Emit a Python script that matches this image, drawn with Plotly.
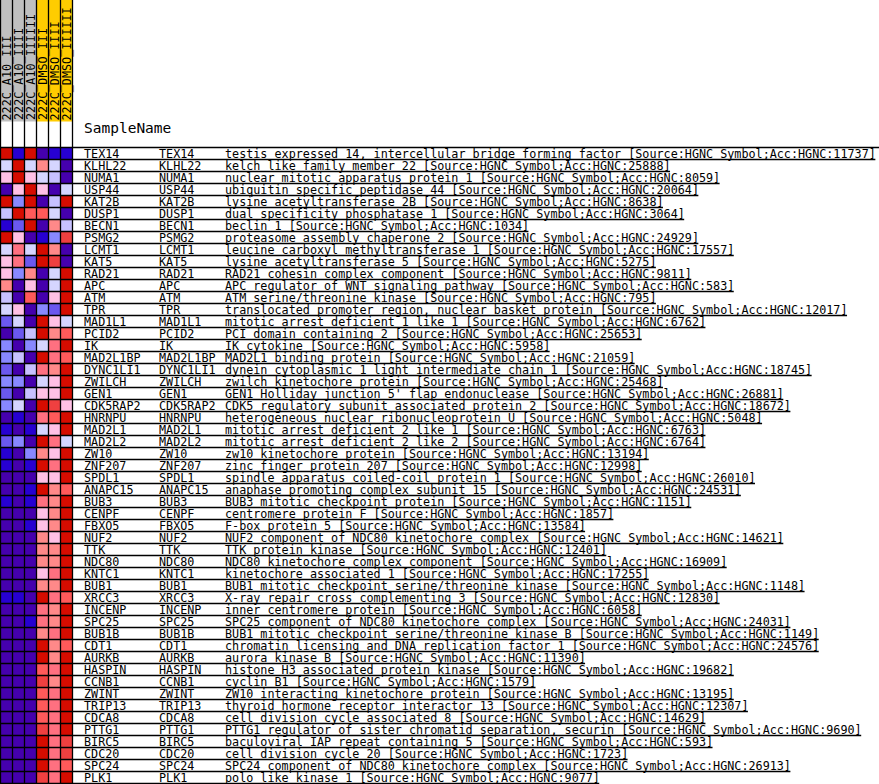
import plotly.graph_objects as go

samples = ["222C_A10_III", "222C_A10_IIII", "222C_A10_IIIIII",
           "222C_DMSO_III", "222C_DMSO_IIII", "222C_DMSO_IIIIII"]
sample_colors = ["#c0c0c0", "#c0c0c0", "#c0c0c0", "#ffcc00", "#ffcc00", "#ffcc00"]

genes = ["TEX14", "KLHL22", "NUMA1", "USP44", "KAT2B", "DUSP1", "BECN1", "PSMG2", "LCMT1", "KAT5",
         "RAD21", "APC", "ATM", "TPR", "MAD1L1", "PCID2", "IK", "MAD2L1BP", "DYNC1LI1", "ZWILCH",
         "GEN1", "CDK5RAP2", "HNRNPU", "MAD2L1", "MAD2L2", "ZW10", "ZNF207", "SPDL1", "ANAPC15", "BUB3",
         "CENPF", "FBXO5", "NUF2", "TTK", "NDC80", "KNTC1", "BUB1", "XRCC3", "INCENP", "SPC25",
         "BUB1B", "CDT1", "AURKB", "HASPIN", "CCNB1", "ZWINT", "TRIP13", "CDCA8", "PTTG1", "BIRC5",
         "CDC20", "SPC24", "PLK1"]

descriptions = [
    "testis expressed 14, intercellular bridge forming factor [Source:HGNC Symbol;Acc:HGNC:11737]",
    "kelch like family member 22 [Source:HGNC Symbol;Acc:HGNC:25888]",
    "nuclear mitotic apparatus protein 1 [Source:HGNC Symbol;Acc:HGNC:8059]",
    "ubiquitin specific peptidase 44 [Source:HGNC Symbol;Acc:HGNC:20064]",
    "lysine acetyltransferase 2B [Source:HGNC Symbol;Acc:HGNC:8638]",
    "dual specificity phosphatase 1 [Source:HGNC Symbol;Acc:HGNC:3064]",
    "beclin 1 [Source:HGNC Symbol;Acc:HGNC:1034]",
    "proteasome assembly chaperone 2 [Source:HGNC Symbol;Acc:HGNC:24929]",
    "leucine carboxyl methyltransferase 1 [Source:HGNC Symbol;Acc:HGNC:17557]",
    "lysine acetyltransferase 5 [Source:HGNC Symbol;Acc:HGNC:5275]",
    "RAD21 cohesin complex component [Source:HGNC Symbol;Acc:HGNC:9811]",
    "APC regulator of WNT signaling pathway [Source:HGNC Symbol;Acc:HGNC:583]",
    "ATM serine/threonine kinase [Source:HGNC Symbol;Acc:HGNC:795]",
    "translocated promoter region, nuclear basket protein [Source:HGNC Symbol;Acc:HGNC:12017]",
    "mitotic arrest deficient 1 like 1 [Source:HGNC Symbol;Acc:HGNC:6762]",
    "PCI domain containing 2 [Source:HGNC Symbol;Acc:HGNC:25653]",
    "IK cytokine [Source:HGNC Symbol;Acc:HGNC:5958]",
    "MAD2L1 binding protein [Source:HGNC Symbol;Acc:HGNC:21059]",
    "dynein cytoplasmic 1 light intermediate chain 1 [Source:HGNC Symbol;Acc:HGNC:18745]",
    "zwilch kinetochore protein [Source:HGNC Symbol;Acc:HGNC:25468]",
    "GEN1 Holliday junction 5' flap endonuclease [Source:HGNC Symbol;Acc:HGNC:26881]",
    "CDK5 regulatory subunit associated protein 2 [Source:HGNC Symbol;Acc:HGNC:18672]",
    "heterogeneous nuclear ribonucleoprotein U [Source:HGNC Symbol;Acc:HGNC:5048]",
    "mitotic arrest deficient 2 like 1 [Source:HGNC Symbol;Acc:HGNC:6763]",
    "mitotic arrest deficient 2 like 2 [Source:HGNC Symbol;Acc:HGNC:6764]",
    "zw10 kinetochore protein [Source:HGNC Symbol;Acc:HGNC:13194]",
    "zinc finger protein 207 [Source:HGNC Symbol;Acc:HGNC:12998]",
    "spindle apparatus coiled-coil protein 1 [Source:HGNC Symbol;Acc:HGNC:26010]",
    "anaphase promoting complex subunit 15 [Source:HGNC Symbol;Acc:HGNC:24531]",
    "BUB3 mitotic checkpoint protein [Source:HGNC Symbol;Acc:HGNC:1151]",
    "centromere protein F [Source:HGNC Symbol;Acc:HGNC:1857]",
    "F-box protein 5 [Source:HGNC Symbol;Acc:HGNC:13584]",
    "NUF2 component of NDC80 kinetochore complex [Source:HGNC Symbol;Acc:HGNC:14621]",
    "TTK protein kinase [Source:HGNC Symbol;Acc:HGNC:12401]",
    "NDC80 kinetochore complex component [Source:HGNC Symbol;Acc:HGNC:16909]",
    "kinetochore associated 1 [Source:HGNC Symbol;Acc:HGNC:17255]",
    "BUB1 mitotic checkpoint serine/threonine kinase [Source:HGNC Symbol;Acc:HGNC:1148]",
    "X-ray repair cross complementing 3 [Source:HGNC Symbol;Acc:HGNC:12830]",
    "inner centromere protein [Source:HGNC Symbol;Acc:HGNC:6058]",
    "SPC25 component of NDC80 kinetochore complex [Source:HGNC Symbol;Acc:HGNC:24031]",
    "BUB1 mitotic checkpoint serine/threonine kinase B [Source:HGNC Symbol;Acc:HGNC:1149]",
    "chromatin licensing and DNA replication factor 1 [Source:HGNC Symbol;Acc:HGNC:24576]",
    "aurora kinase B [Source:HGNC Symbol;Acc:HGNC:11390]",
    "histone H3 associated protein kinase [Source:HGNC Symbol;Acc:HGNC:19682]",
    "cyclin B1 [Source:HGNC Symbol;Acc:HGNC:1579]",
    "ZW10 interacting kinetochore protein [Source:HGNC Symbol;Acc:HGNC:13195]",
    "thyroid hormone receptor interactor 13 [Source:HGNC Symbol;Acc:HGNC:12307]",
    "cell division cycle associated 8 [Source:HGNC Symbol;Acc:HGNC:14629]",
    "PTTG1 regulator of sister chromatid separation, securin [Source:HGNC Symbol;Acc:HGNC:9690]",
    "baculoviral IAP repeat containing 5 [Source:HGNC Symbol;Acc:HGNC:593]",
    "cell division cycle 20 [Source:HGNC Symbol;Acc:HGNC:1723]",
    "SPC24 component of NDC80 kinetochore complex [Source:HGNC Symbol;Acc:HGNC:26913]",
    "polo like kinase 1 [Source:HGNC Symbol;Acc:HGNC:9077]",
]

# colour level (0 = lowest / blue ... 11 = highest / red), one row per gene
levels = [
    [11, 1, 11, 0, 1, 1],
    [5, 11, 5, 7, 5, 0],
    [6, 11, 6, 5, 4, 0],
    [0, 6, 11, 6, 0, 5],
    [11, 3, 11, 0, 4, 11],
    [4, 11, 9, 9, 5, 0],
    [1, 2, 11, 0, 7, 4],
    [11, 6, 0, 1, 3, 10],
    [5, 8, 5, 11, 7, 0],
    [6, 8, 2, 11, 10, 0],
    [6, 3, 7, 0, 5, 11],
    [7, 0, 6, 0, 5, 11],
    [4, 0, 9, 0, 6, 11],
    [5, 6, 0, 3, 2, 11],
    [2, 5, 0, 11, 6, 5],
    [0, 2, 4, 11, 7, 9],
    [3, 0, 3, 5, 8, 11],
    [3, 4, 0, 11, 8, 9],
    [2, 0, 4, 8, 7, 11],
    [3, 3, 0, 5, 6, 11],
    [2, 0, 4, 6, 6, 11],
    [3, 5, 0, 11, 10, 6],
    [0, 1, 0, 8, 9, 11],
    [1, 0, 1, 5, 6, 11],
    [2, 3, 0, 11, 8, 5],
    [1, 0, 3, 7, 6, 11],
    [1, 0, 1, 11, 8, 11],
    [0, 0, 0, 6, 6, 11],
    [0, 0, 1, 11, 7, 9],
    [1, 0, 1, 8, 7, 11],
    [0, 0, 0, 6, 7, 11],
    [0, 0, 1, 6, 7, 11],
    [0, 0, 0, 7, 6, 11],
    [0, 0, 0, 7, 7, 11],
    [0, 0, 0, 7, 7, 11],
    [0, 0, 0, 6, 8, 11],
    [0, 0, 0, 7, 7, 11],
    [1, 1, 0, 11, 8, 9],
    [0, 0, 0, 8, 7, 11],
    [0, 0, 1, 8, 7, 11],
    [0, 0, 0, 7, 8, 11],
    [0, 0, 0, 11, 7, 9],
    [0, 0, 0, 11, 7, 11],
    [0, 0, 0, 9, 8, 11],
    [0, 0, 0, 10, 7, 11],
    [0, 0, 0, 9, 8, 11],
    [0, 0, 0, 9, 8, 11],
    [0, 0, 0, 9, 8, 11],
    [0, 0, 0, 10, 8, 11],
    [0, 0, 0, 11, 8, 10],
    [0, 0, 0, 11, 8, 10],
    [0, 0, 0, 11, 8, 9],
    [0, 0, 0, 10, 8, 11],
]

palette = ["#4500ad", "#2700d1", "#6b58ef", "#8888ff", "#c7c1ff", "#d5d5ff",
           "#ffc0e5", "#ff8989", "#ff7080", "#ff5a5a", "#ef4040", "#d60c00"]

# ---- layout constants (pixels) ----
W, H = 879, 784
CELL_W, CELL_H = 12, 12
TOP = 147
HEADER_BOTTOM = 121.5
X_LABEL1, X_LABEL2, X_DESC = 82.5, 157.5, 224
CHAR_W = 7.08
FONT = "DejaVu Sans Mono"
FS = 11.76

n = len(palette)
colorscale = []
for i, c in enumerate(palette):
    colorscale.append([i / n, c])
    colorscale.append([(i + 1) / n, c])

ncol = len(samples)
nrow = len(genes)

fig = go.Figure()
fig.add_trace(go.Heatmap(
    z=levels, x0=CELL_W / 2, dx=CELL_W, y0=TOP + CELL_H / 2, dy=CELL_H,
    colorscale=colorscale, zmin=-0.5, zmax=n - 0.5, showscale=False, hoverinfo="skip",
))

shapes = []
# header colour blocks
for j, c in enumerate(sample_colors):
    shapes.append(dict(type="rect", xref="x", yref="y", x0=j * CELL_W, x1=(j + 1) * CELL_W,
                       y0=0, y1=HEADER_BOTTOM, fillcolor=c, line=dict(width=0), layer="below"))
# vertical lines
for j in range(ncol + 1):
    xv = j * CELL_W + 0.5
    shapes.append(dict(type="line", xref="x", yref="y", x0=xv, x1=xv, y0=0,
                       y1=TOP + nrow * CELL_H, line=dict(color="black", width=1.3)))
# top horizontal line
shapes.append(dict(type="line", xref="x", yref="y", x0=0, x1=W, y0=TOP + 0.5, y1=TOP + 0.5,
                   line=dict(color="black", width=1.3)))
# row lines
for i, d in enumerate(descriptions):
    yl = TOP + (i + 1) * CELL_H + 0.5
    xend = X_DESC + len(d) * CHAR_W
    shapes.append(dict(type="line", xref="x", yref="y", x0=0, x1=min(xend, W), y0=yl, y1=yl,
                       line=dict(color="black", width=1.3)))

annotations = []
for j, s in enumerate(samples):
    annotations.append(dict(x=j * CELL_W + CELL_W / 2 + 0.5, y=HEADER_BOTTOM, xref="x", yref="y",
                            text=s, textangle=-90, showarrow=False, xanchor="center",
                            yanchor="bottom", font=dict(family=FONT, size=FS, color="black"),
                            borderpad=0))
annotations.append(dict(x=X_LABEL1, y=128, xref="x", yref="y", text="SampleName", showarrow=False,
                        xanchor="left", yanchor="middle",
                        font=dict(family=FONT, size=14.5, color="black"), borderpad=0))
for i, (g, d) in enumerate(zip(genes, descriptions)):
    yc = TOP + i * CELL_H + CELL_H / 2 + 0.5
    for xx, t in ((X_LABEL1, g), (X_LABEL2, g), (X_DESC, d)):
        annotations.append(dict(x=xx, y=yc, xref="x", yref="y", text=t, showarrow=False,
                                xanchor="left", yanchor="middle",
                                font=dict(family=FONT, size=FS, color="black"), borderpad=0))

fig.update_layout(
    width=W, height=H, margin=dict(l=0, r=0, t=0, b=0),
    paper_bgcolor="white", plot_bgcolor="white",
    xaxis=dict(range=[0, W], visible=False, fixedrange=True),
    yaxis=dict(range=[H, 0], visible=False, fixedrange=True),
    shapes=shapes, annotations=annotations, showlegend=False,
)
fig.write_html("out.html")
